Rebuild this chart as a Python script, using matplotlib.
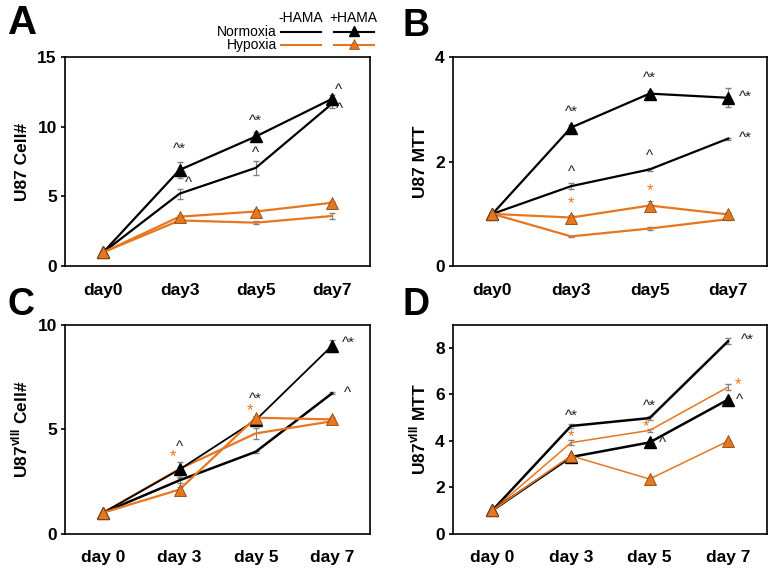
import matplotlib
matplotlib.use('Agg')
import matplotlib.pyplot as plt
from matplotlib.lines import Line2D

plt.rcParams['font.family'] = ['Liberation Sans', 'DejaVu Sans']

ORANGE = '#E8761E'
EDGE = '#8a4a14'

days_ab = ['day0', 'day3', 'day5', 'day7']
days_cd = ['day 0', 'day 3', 'day 5', 'day 7']

# Panel A: U87 cell number
a_norm_minus = [1, 5.2, 7.05, 11.65]
a_norm_minus_err = [0, 0.35, 0.5, 0.3]
a_norm_plus = [1, 6.9, 9.3, 12.0]
a_norm_plus_err = [0, 0.6, 0.3, 0.3]
a_hyp_minus = [1, 3.28, 3.12, 3.6]
a_hyp_minus_err = [0, 0.1, 0.1, 0.2]
a_hyp_plus = [1, 3.55, 3.92, 4.55]
a_hyp_plus_err = [0, 0.1, 0.2, 0.1]

# Panel B: U87 MTT
b_norm_minus = [1, 1.53, 1.85, 2.44]
b_norm_minus_err = [0, 0.06, 0.03, 0.02]
b_norm_plus = [1, 2.65, 3.3, 3.22]
b_norm_plus_err = [0, 0.05, 0.05, 0.18]
b_hyp_minus = [1, 0.57, 0.72, 0.9]
b_hyp_minus_err = [0, 0.01, 0.02, 0.02]
b_hyp_plus = [1, 0.93, 1.16, 0.99]
b_hyp_plus_err = [0, 0.04, 0.08, 0.04]

# Panel C: U87vIII cell number
c_norm_minus = [1, 2.55, 3.92, 6.72]
c_norm_minus_err = [0, 0.12, 0.05, 0.05]
c_norm_plus = [1, 3.07, 5.44, 9.0]
c_norm_plus_err = [0, 0.35, 0.15, 0.3]
c_hyp_minus = [1, 3.1, 4.8, 5.38]
c_hyp_minus_err = [0, 0.1, 0.25, 0.1]
c_hyp_plus = [1, 2.11, 5.55, 5.47]
c_hyp_plus_err = [0, 0.1, 0.1, 0.1]

# Panel D: U87vIII MTT
d_norm_minus = [1, 4.64, 4.98, 8.3]
d_norm_minus_err = [0, 0.1, 0.08, 0.12]
d_norm_plus = [1, 3.3, 3.93, 5.78]
d_norm_plus_err = [0, 0.05, 0.05, 0.05]
d_hyp_minus = [1, 3.92, 4.45, 6.32]
d_hyp_minus_err = [0, 0.1, 0.05, 0.15]
d_hyp_plus = [1, 3.35, 2.35, 3.99]
d_hyp_plus_err = [0, 0.05, 0.05, 0.05]

# significance marks: (panel, x index, x offset, y, text, colour)
marks = [
    ('A', 1, 0, 8.4, '^*', 'k'), ('A', 1, 0.12, 6.0, '^', 'k'),
    ('A', 2, 0, 10.4, '^*', 'k'), ('A', 2, 0, 8.1, '^', 'k'),
    ('A', 3, 0.08, 12.6, '^', 'k'), ('A', 3, 0.1, 11.3, '^', 'k'),
    ('B', 1, 0, 2.96, '^*', 'k'), ('B', 1, 0, 1.8, '^', 'k'),
    ('B', 1, 0, 1.2, '*', ORANGE),
    ('B', 2, 0, 3.6, '^*', 'k'), ('B', 2, 0, 2.1, '^', 'k'),
    ('B', 2, 0, 1.45, '*', ORANGE),
    ('B', 3, 0.22, 3.24, '^*', 'k'), ('B', 3, 0.22, 2.46, '^*', 'k'),
    ('C', 1, 0, 4.16, '^', 'k'), ('C', 1, -0.08, 3.68, '*', ORANGE),
    ('C', 2, 0, 6.48, '^*', 'k'), ('C', 2, -0.08, 5.89, '*', ORANGE),
    ('C', 3, 0.22, 9.12, '^*', 'k'), ('C', 3, 0.2, 6.72, '^', 'k'),
    ('D', 1, 0, 5.1, '^*', 'k'), ('D', 1, 0, 4.16, '*', ORANGE),
    ('D', 2, 0, 5.49, '^*', 'k'), ('D', 2, -0.05, 4.6, '*', ORANGE),
    ('D', 2, 0.17, 3.92, '^', 'k'),
    ('D', 3, 0.24, 8.36, '^*', 'k'), ('D', 3, 0.13, 6.44, '*', ORANGE),
    ('D', 3, 0.14, 5.78, '^', 'k'),
]

panels = {
    'A': dict(pos=[0.084, 0.533, 0.393, 0.367], ylim=15, yt=[0, 5, 10, 15],
              ylabel='U87 Cell#', xl=days_ab,
              data=[a_norm_minus, a_norm_minus_err, a_norm_plus, a_norm_plus_err,
                    a_hyp_minus, a_hyp_minus_err, a_hyp_plus, a_hyp_plus_err],
              lw=(1.6, 1.6, 1.6, 1.6)),
    'B': dict(pos=[0.584, 0.533, 0.405, 0.367], ylim=4, yt=[0, 2, 4],
              ylabel='U87 MTT', xl=days_ab,
              data=[b_norm_minus, b_norm_minus_err, b_norm_plus, b_norm_plus_err,
                    b_hyp_minus, b_hyp_minus_err, b_hyp_plus, b_hyp_plus_err],
              lw=(1.6, 1.6, 1.6, 1.6)),
    'C': dict(pos=[0.084, 0.064, 0.393, 0.366], ylim=10, yt=[0, 5, 10],
              ylabel='U87$^{\\mathregular{vIII}}$ Cell#', xl=days_cd,
              data=[c_norm_minus, c_norm_minus_err, c_norm_plus, c_norm_plus_err,
                    c_hyp_minus, c_hyp_minus_err, c_hyp_plus, c_hyp_plus_err],
              lw=(1.8, 1.3, 1.6, 1.6)),
    'D': dict(pos=[0.584, 0.064, 0.405, 0.366], ylim=9, yt=[0, 2, 4, 6, 8],
              ylabel='U87$^{\\mathregular{vIII}}$ MTT', xl=days_cd,
              data=[d_norm_minus, d_norm_minus_err, d_norm_plus, d_norm_plus_err,
                    d_hyp_minus, d_hyp_minus_err, d_hyp_plus, d_hyp_plus_err],
              lw=(1.8, 1.8, 1.1, 1.1)),
}

fig = plt.figure(figsize=(7.76, 5.70), dpi=100)

for name, p in panels.items():
    ax = fig.add_axes(p['pos'])
    x = list(range(4))
    nm, nme, npl, nple, hm, hme, hp, hpe = p['data']
    lw_nm, lw_np, lw_hm, lw_hp = p['lw']
    ax.errorbar(x, nm, yerr=nme, color='k', lw=lw_nm, ecolor='gray',
                elinewidth=0.8, capsize=2, zorder=3)
    ax.errorbar(x, hm, yerr=hme, color=ORANGE, lw=lw_hm, ecolor='gray',
                elinewidth=0.8, capsize=2, zorder=3)
    ax.errorbar(x, npl, yerr=nple, color='k', lw=lw_np, marker='^', ms=9,
                mfc='k', mec='k', ecolor='gray', elinewidth=0.8, capsize=2, zorder=4)
    ax.errorbar(x, hp, yerr=hpe, color=ORANGE, lw=lw_hp, marker='^', ms=9,
                mfc=ORANGE, mec=EDGE, mew=0.6, ecolor='gray', elinewidth=0.8,
                capsize=2, zorder=5)

    for pn, xi, dx, y, txt, col in marks:
        if pn == name:
            fs = 12 if col == ORANGE else 11
            ax.text(xi + dx, y, txt, ha='center', va='center', fontsize=fs,
                    color=col if col != 'k' else '#222222', zorder=6)

    ax.set_xlim(-0.5, 3.5)
    ax.set_ylim(0, p['ylim'])
    ax.set_yticks(p['yt'])
    ax.set_xticks(x)
    ax.set_xticklabels(p['xl'], fontsize=12.5, fontweight='bold')
    for lab in ax.get_yticklabels():
        lab.set_fontsize(12.5)
        lab.set_fontweight('bold')
    ax.tick_params(axis='x', length=0, pad=12)
    ax.tick_params(axis='y', length=3, width=1.2, pad=3)
    ax.set_ylabel(p['ylabel'], fontsize=12.5, fontweight='bold', labelpad=5)
    for s in ax.spines.values():
        s.set_linewidth(1.2)

# panel letters
fig.text(0.010, 0.960, 'A', fontsize=29, fontweight='bold', va='center')
fig.text(0.519, 0.955, 'B', fontsize=27, fontweight='bold', va='center')
fig.text(0.010, 0.465, 'C', fontsize=27, fontweight='bold', va='center')
fig.text(0.519, 0.465, 'D', fontsize=27, fontweight='bold', va='center')

# legend drawn by hand
fig.text(0.359, 0.968, '-HAMA', fontsize=10, ha='left', va='center')
fig.text(0.424, 0.968, '+HAMA', fontsize=10, ha='left', va='center')
fig.text(0.357, 0.944, 'Normoxia', fontsize=10, ha='right', va='center')
fig.text(0.357, 0.921, 'Hypoxia', fontsize=10, ha='right', va='center')
fig.add_artist(Line2D([0.362, 0.414], [0.944, 0.944], color='k', lw=1.5))
fig.add_artist(Line2D([0.430, 0.482], [0.944, 0.944], color='k', lw=1.5))
fig.add_artist(Line2D([0.456], [0.946], color='k', marker='^', ms=7))
fig.add_artist(Line2D([0.362, 0.414], [0.921, 0.921], color=ORANGE, lw=1.5))
fig.add_artist(Line2D([0.430, 0.482], [0.921, 0.921], color=ORANGE, lw=1.5))
fig.add_artist(Line2D([0.456], [0.923], color=ORANGE, marker='^', ms=7, mec=EDGE, mew=0.5))

plt.savefig('out.png', dpi=100)
